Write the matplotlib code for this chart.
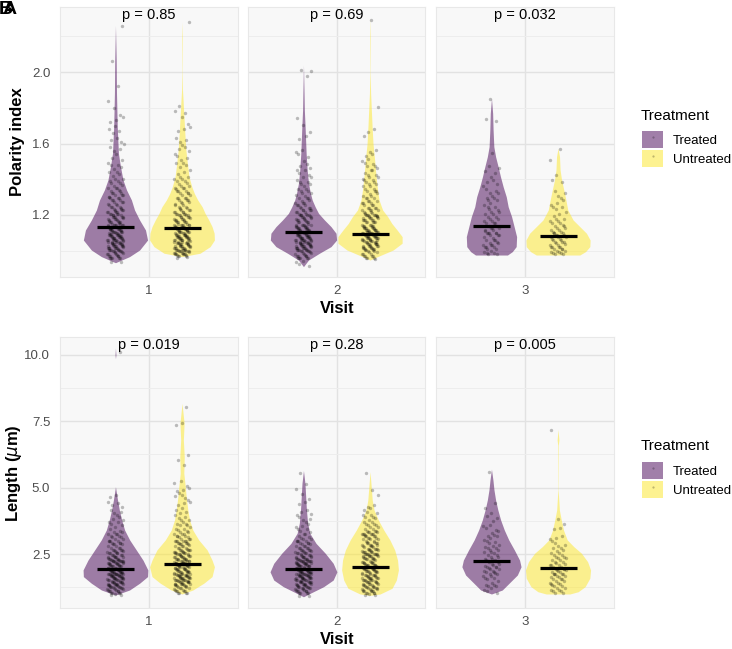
import numpy as np
import matplotlib.pyplot as plt
from matplotlib.patches import Patch
from matplotlib.lines import Line2D
from matplotlib.legend_handler import HandlerTuple

plt.rcParams['font.family'] = ['Liberation Sans', 'DejaVu Sans']

# DATA
visits = ['1', '2', '3']
groups = ['Treated', 'Untreated']
p_polarity = ['p = 0.85', 'p = 0.69', 'p = 0.032']
p_length = ['p = 0.019', 'p = 0.28', 'p = 0.005']

# violin outlines: (value, half width in x units)
pi_trt_1 = [(0.933, 0), (0.967, 0.095), (1.004, 0.163), (1.060, 0.217), (1.116, 0.203), (1.172, 0.163),
            (1.228, 0.129), (1.284, 0.108), (1.340, 0.075), (1.396, 0.051), (1.470, 0.034), (1.545, 0.020),
            (1.694, 0.012), (1.881, 0.007), (2.067, 0.005), (2.26, 0)]
pi_unt_1 = [(0.967, 0), (0.986, 0.122), (1.023, 0.190), (1.060, 0.219), (1.098, 0.217), (1.135, 0.203),
            (1.172, 0.181), (1.209, 0.156), (1.246, 0.136), (1.284, 0.106), (1.321, 0.083), (1.358, 0.066),
            (1.414, 0.047), (1.489, 0.036), (1.564, 0.026), (1.657, 0.019), (1.750, 0.013), (1.843, 0.007),
            (1.90, 0.003), (2.0, 0.001), (2.2, 0.002), (2.28, 0)]
pi_trt_2 = [(0.911, 0), (0.948, 0.034), (0.986, 0.108), (1.023, 0.186), (1.060, 0.224), (1.098, 0.220),
            (1.135, 0.186), (1.172, 0.142), (1.209, 0.102), (1.246, 0.079), (1.284, 0.059), (1.321, 0.047),
            (1.377, 0.034), (1.452, 0.025), (1.545, 0.018), (1.694, 0.011), (1.787, 0.006), (1.881, 0.004),
            (2.039, 0)]
pi_unt_2 = [(0.948, 0), (0.967, 0.051), (1.004, 0.156), (1.042, 0.217), (1.079, 0.217), (1.116, 0.183),
            (1.153, 0.147), (1.191, 0.119), (1.228, 0.085), (1.284, 0.061), (1.340, 0.051), (1.414, 0.041),
            (1.508, 0.031), (1.601, 0.020), (1.694, 0.014), (1.787, 0.009), (1.881, 0.004), (2.0, 0.001),
            (2.2, 0.002), (2.30, 0)]
pi_trt_3 = [(0.976, 0.108), (0.995, 0.141), (1.023, 0.167), (1.079, 0.170), (1.135, 0.153), (1.191, 0.136),
            (1.246, 0.113), (1.302, 0.100), (1.358, 0.079), (1.414, 0.061), (1.470, 0.045), (1.526, 0.028),
            (1.582, 0.016), (1.676, 0.011), (1.769, 0.008), (1.853, 0)]
pi_unt_3 = [(0.976, 0.147), (0.995, 0.186), (1.023, 0.215), (1.060, 0.217), (1.098, 0.192), (1.135, 0.147),
            (1.172, 0.102), (1.228, 0.066), (1.284, 0.053), (1.340, 0.039), (1.396, 0.024), (1.452, 0.014),
            (1.527, 0.010), (1.573, 0)]

len_trt_1 = [(0.957, 0), (1.145, 0.095), (1.40, 0.163), (1.65, 0.217), (1.90, 0.219), (2.27, 0.186),
             (2.65, 0.141), (3.03, 0.096), (3.40, 0.062), (3.78, 0.042), (4.16, 0.026), (4.53, 0.014),
             (5.03, 0), (9.85, 0), (10.0, 0.003), (10.25, 0)]
len_unt_1 = [(0.995, 0), (1.145, 0.073), (1.40, 0.147), (1.65, 0.203), (2.02, 0.219), (2.27, 0.203),
             (2.65, 0.170), (3.03, 0.113), (3.40, 0.073), (3.78, 0.051), (4.16, 0.039), (4.66, 0.028),
             (5.03, 0.022), (5.54, 0.012), (6.16, 0.015), (6.79, 0.009), (7.42, 0.014), (8.17, 0)]
len_trt_2 = [(0.89, 0), (1.02, 0.045), (1.27, 0.136), (1.52, 0.201), (1.83, 0.226), (2.15, 0.201),
             (2.53, 0.147), (2.90, 0.085), (3.28, 0.043), (3.66, 0.028), (4.16, 0.020), (4.66, 0.015),
             (5.16, 0.010), (5.64, 0)]
len_unt_2 = [(0.945, 0), (0.995, 0.068), (1.21, 0.149), (1.52, 0.178), (1.90, 0.192), (2.27, 0.186),
             (2.65, 0.167), (3.03, 0.134), (3.40, 0.093), (3.78, 0.056), (4.16, 0.027), (4.53, 0.015),
             (5.03, 0.008), (5.60, 0)]
len_trt_3 = [(0.995, 0), (1.145, 0.073), (1.40, 0.119), (1.71, 0.175), (2.02, 0.200), (2.27, 0.190),
             (2.65, 0.155), (3.03, 0.117), (3.40, 0.087), (3.78, 0.062), (4.16, 0.043), (4.53, 0.028),
             (4.91, 0.017), (5.28, 0.010), (5.69, 0)]
len_unt_3 = [(0.995, 0.08), (1.08, 0.136), (1.27, 0.183), (1.59, 0.215), (1.90, 0.220), (2.21, 0.200),
             (2.53, 0.158), (2.78, 0.106), (3.03, 0.062), (3.40, 0.037), (3.78, 0.022), (4.16, 0.009),
             (4.91, 0.001), (6.60, 0.002), (6.79, 0.006), (7.19, 0)]

# medians per visit
pi_med_trt = [1.131, 1.107, 1.140]
pi_med_unt = [1.125, 1.094, 1.083]
len_med_trt = [1.92, 1.92, 2.22]
len_med_unt = [2.11, 2.02, 1.99]

# observations, counted per bin (polarity: bins of 0.05 from 0.90; length: bins of 0.25 from 0.75)
pi_bin0, pi_bw = 0.90, 0.05
len_bin0, len_bw = 0.75, 0.25
pi_cnt_trt_1 = [2, 20, 32, 35, 30, 23, 18, 14, 11, 8, 6, 5, 3, 4, 3, 4, 3, 2, 1, 0, 1, 0, 0, 1, 0, 0, 0, 1]
pi_cnt_unt_1 = [2, 20, 34, 34, 28, 22, 17, 13, 10, 8, 6, 5, 4, 4, 3, 3, 2, 2, 1, 0, 0, 0, 0, 0, 0, 0, 0, 1]
pi_cnt_trt_2 = [4, 18, 32, 34, 28, 20, 15, 11, 8, 6, 5, 4, 3, 2, 2, 1, 2, 0, 0, 0, 0, 1, 2]
pi_cnt_unt_2 = [0, 14, 30, 34, 30, 22, 16, 12, 9, 8, 7, 6, 4, 2, 1, 2, 0, 0, 1, 0, 0, 0, 0, 0, 0, 0, 0, 1]
pi_cnt_trt_3 = [0, 6, 11, 11, 10, 9, 8, 6, 5, 4, 3, 2, 1, 0, 0, 0, 2, 0, 0, 1]
pi_cnt_unt_3 = [0, 8, 13, 13, 10, 7, 5, 4, 3, 2, 1, 0, 1, 1]

len_cnt_trt_1 = [3, 17, 26, 30, 29, 25, 20, 15, 11, 8, 6, 5, 4, 3, 4, 2, 0, 0, 0, 0, 0, 0, 0, 0, 0, 0,
                 0, 0, 0, 0, 0, 0, 0, 0, 0, 0, 0, 1]
len_cnt_unt_1 = [0, 14, 24, 28, 27, 26, 23, 19, 15, 11, 8, 6, 5, 4, 3, 4, 4, 3, 0, 0, 1, 2, 0, 0, 0, 0, 2, 0, 0, 1]
len_cnt_trt_2 = [2, 16, 25, 28, 29, 27, 21, 16, 11, 7, 5, 4, 4, 3, 2, 1, 2, 1, 0, 1]
len_cnt_unt_2 = [3, 18, 20, 22, 23, 22, 21, 19, 17, 14, 11, 8, 6, 4, 2, 1, 1, 0, 0, 1]
len_cnt_trt_3 = [0, 4, 6, 7, 9, 9, 8, 7, 6, 5, 4, 3, 2, 2, 1, 0, 0, 0, 0, 1]
len_cnt_unt_3 = [0, 8, 9, 10, 10, 9, 8, 6, 4, 3, 2, 1, 1, 0, 0, 0, 0, 0, 0, 0, 0, 0, 0, 0, 0, 1]

# STYLE
W, H = 732, 649
colors = ['#440154', '#FDE725']
dodge = 0.225
col_x = [60, 248, 436]
col_w = 177.5


def expand_counts(counts, b0, bw, lo, hi):
    # spread the observations of each bin over the bin (quasi-random, no rng)
    ys, xs = [], []
    k = 0
    for i, n in enumerate(counts):
        a = max(b0 + i * bw, lo)
        b = min(b0 + (i + 1) * bw, hi)
        for j in range(n):
            ys.append(a + ((k * 0.7548777 + 0.37) % 1) * (b - a))
            xs.append(((k * 0.6180340 + 0.21) % 1) - 0.5)
            k += 1
    return np.array(xs) * 0.11, np.array(ys)


def draw_panel(ax, outlines, counts, meds, b0, bw):
    for g in range(2):
        c = 1 + (g * 2 - 1) * dodge
        pts = np.array(outlines[g])
        ax.fill_betweenx(pts[:, 0], c - pts[:, 1], c + pts[:, 1], color=colors[g], alpha=0.5, lw=0, zorder=2)
        dx, yy = expand_counts(counts[g], b0, bw, pts[0, 0], pts[-1, 0])
        ax.scatter(c + dx, yy, s=6, color='k', alpha=0.25, lw=0, zorder=3)
        ax.hlines(meds[g], c - 0.125, c + 0.125, color='k', lw=2.3, zorder=4)


def style_panel(ax, ylim, major, labels, minor, show_y):
    ax.set_facecolor('#F8F8F8')
    ax.set_xlim(0.4, 1.6)
    ax.set_ylim(*ylim)
    ax.set_xticks([1])
    ax.set_yticks(major)
    ax.set_yticklabels(labels if show_y else [])
    ax.set_yticks(minor, minor=True)
    ax.grid(True, which='major', color='#E2E2E2', lw=1.0)
    ax.grid(True, which='minor', axis='y', color='#EDEDED', lw=0.7)
    ax.set_axisbelow(True)
    for s in ax.spines.values():
        s.set_color('#E8E8E8')
        s.set_linewidth(0.8)
    ax.tick_params(axis='both', which='both', length=0, labelsize=9.5, labelcolor='#4D4D4D')
    ax.tick_params(axis='x', pad=6)
    ax.tick_params(axis='y', pad=7)


fig = plt.figure(figsize=(W / 100, H / 100), dpi=100)

rows = [
    dict(top=7, bot=277, ylim=(0.853, 2.364), major=[1.2, 1.6, 2.0], labels=['1.2', '1.6', '2.0'],
         minor=[1.0, 1.4, 1.8, 2.2], ptxt=p_polarity,
         outlines=[(pi_trt_1, pi_unt_1), (pi_trt_2, pi_unt_2), (pi_trt_3, pi_unt_3)],
         counts=[(pi_cnt_trt_1, pi_cnt_unt_1), (pi_cnt_trt_2, pi_cnt_unt_2), (pi_cnt_trt_3, pi_cnt_unt_3)],
         meds=list(zip(pi_med_trt, pi_med_unt)), b0=pi_bin0, bw=pi_bw),
    dict(top=337, bot=608, ylim=(0.468, 10.666), major=[2.5, 5.0, 7.5, 10.0],
         labels=['2.5', '5.0', '7.5', '10.0'], minor=[1.25, 3.75, 6.25, 8.75], ptxt=p_length,
         outlines=[(len_trt_1, len_unt_1), (len_trt_2, len_unt_2), (len_trt_3, len_unt_3)],
         counts=[(len_cnt_trt_1, len_cnt_unt_1), (len_cnt_trt_2, len_cnt_unt_2), (len_cnt_trt_3, len_cnt_unt_3)],
         meds=list(zip(len_med_trt, len_med_unt)), b0=len_bin0, bw=len_bw),
]

for r in rows:
    for i in range(3):
        ax = fig.add_axes([col_x[i] / W, 1 - r['bot'] / H, col_w / W, (r['bot'] - r['top']) / H])
        style_panel(ax, r['ylim'], r['major'], r['labels'], r['minor'], i == 0)
        ax.set_xticklabels([visits[i]])
        draw_panel(ax, r['outlines'][i], r['counts'][i], r['meds'][i], r['b0'], r['bw'])
        ax.text(1, 0.970, r['ptxt'][i], transform=ax.get_xaxis_transform(), ha='center', va='center',
                fontsize=10.5, zorder=5)

# axis titles
fig.text(18 / W, 1 - 142 / H, 'Polarity index', rotation=90, ha='center', va='center', fontsize=12, fontweight='bold')
fig.text(14 / W, 1 - 473 / H, 'Length ($\\mu$m)', rotation=90, ha='center', va='center', fontsize=12, fontweight='bold')
fig.text(337 / W, 1 - 308 / H, 'Visit', ha='center', va='center', fontsize=12, fontweight='bold')
fig.text(337 / W, 1 - 640 / H, 'Visit', ha='center', va='center', fontsize=12, fontweight='bold')

# panel tags (overlapping, as in the source)
fig.text(-1 / W, 1 - 1 / H, 'B', ha='left', va='top', fontsize=14, fontweight='bold')
fig.text(3 / W, 1 - 1 / H, 'A', ha='left', va='top', fontsize=14, fontweight='bold')

# legends
handles = [(Patch(facecolor=c, alpha=0.5, lw=0),
            Line2D([], [], ls='', marker='o', ms=1.6, color='k', alpha=0.25, mew=0)) for c in colors]
for title_y, key_y in [(116, 131), (446, 462)]:
    fig.text(641 / W, 1 - title_y / H, 'Treatment', ha='left', va='center', fontsize=11)
    fig.legend(handles, groups, loc='upper left', bbox_to_anchor=(642 / W, 1 - key_y / H),
               handler_map={tuple: HandlerTuple(ndivide=1, pad=0)}, frameon=False, fontsize=9.5,
               handlelength=1.6, handleheight=1.6, handletextpad=0.75, labelspacing=0.15,
               borderpad=0, borderaxespad=0)

fig.savefig('out.png', dpi=100)
